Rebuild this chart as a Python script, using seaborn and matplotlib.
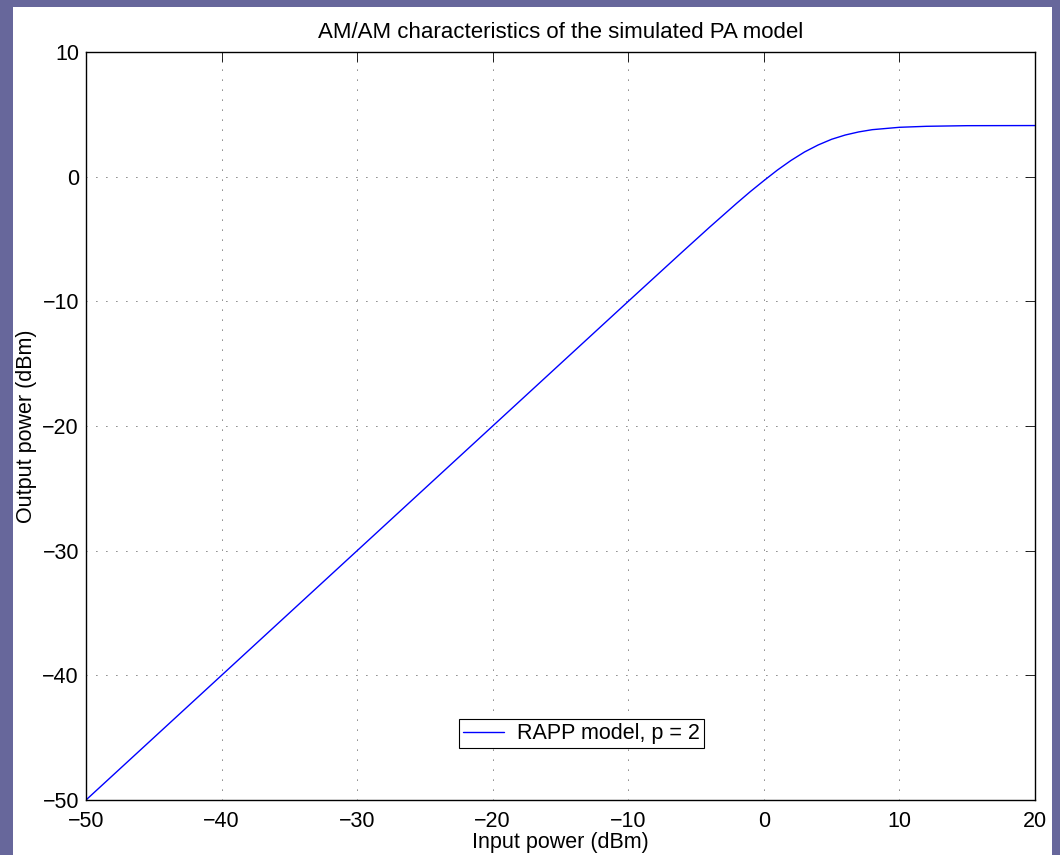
import pandas as pd
import matplotlib.pyplot as plt
import matplotlib.patches as mpatches
import seaborn as sns

# Values (RAPP model, p = 2)
input_dbm = [-50, -40, -30, -20, -10, -6, -4, -2, -1, 0, 1, 2, 3, 4, 5,
             6, 7, 8, 10, 12, 15, 20]
output_dbm = [-50, -40, -30, -20, -10.0, -6.02, -4.05, -2.13, -1.2, -0.32,
              0.53, 1.30, 1.98, 2.54, 3.0, 3.34, 3.59, 3.77, 3.96, 4.04,
              4.09, 4.1]
series_label = "RAPP model, p = 2"

x_ticks = [-50, -40, -30, -20, -10, 0, 10, 20]
y_ticks = [-50, -40, -30, -20, -10, 0, 10]

df = pd.DataFrame({"input": input_dbm, "output": output_dbm})

FS = 15.5

sns.set_style("white")
plt.rcParams['font.family'] = ['Liberation Sans', 'DejaVu Sans']
plt.rcParams['font.size'] = FS
plt.rcParams['text.color'] = 'black'
plt.rcParams['axes.labelcolor'] = 'black'

fig = plt.figure(figsize=(10.6, 8.55), dpi=100)
fig.patch.set_facecolor("#67679b")
# white canvas inside the purple border
fig.patches.append(mpatches.Rectangle((13 / 1060, 0), (1052 - 13) / 1060, 1 - 7 / 855,
                                      transform=fig.transFigure, facecolor="white",
                                      edgecolor="none", zorder=-10))

ax = fig.add_axes([86 / 1060, 1 - 800 / 855, (1035 - 86) / 1060, (800 - 52) / 855])
ax.set_zorder(1)

sns.lineplot(data=df, x="input", y="output", ax=ax, color="#0000ff",
             linewidth=1.0, label=series_label)

ax.set_xlim(-50, 20)
ax.set_ylim(-50, 10)
ax.set_xticks(x_ticks)
ax.set_yticks(y_ticks)
ax.grid(True, linestyle=(0, (1, 11)), color="black", linewidth=0.6)
ax.tick_params(direction="in", length=7, width=0.6, top=True, right=True,
               labelsize=FS, colors="black")
ax.tick_params(axis="x", pad=8)
ax.tick_params(axis="y", pad=5)
for s in ax.spines.values():
    s.set_color("black")
    s.set_linewidth(1.0)

ax.set_title("AM/AM characteristics of the simulated PA model", fontsize=16, pad=10)
ax.set_xlabel("Input power (dBm)", fontsize=FS, labelpad=0)
ax.set_ylabel("Output power (dBm)", fontsize=FS, labelpad=4)

leg = ax.legend(loc="lower center", bbox_to_anchor=(0.522, 0.069), fancybox=False,
                framealpha=1, edgecolor="black", fontsize=FS,
                handlelength=1.9, handletextpad=0.6, borderpad=0.2,
                borderaxespad=0)
leg.get_frame().set_linewidth(0.8)

fig.savefig("out.png", dpi=100, facecolor=fig.get_facecolor())
